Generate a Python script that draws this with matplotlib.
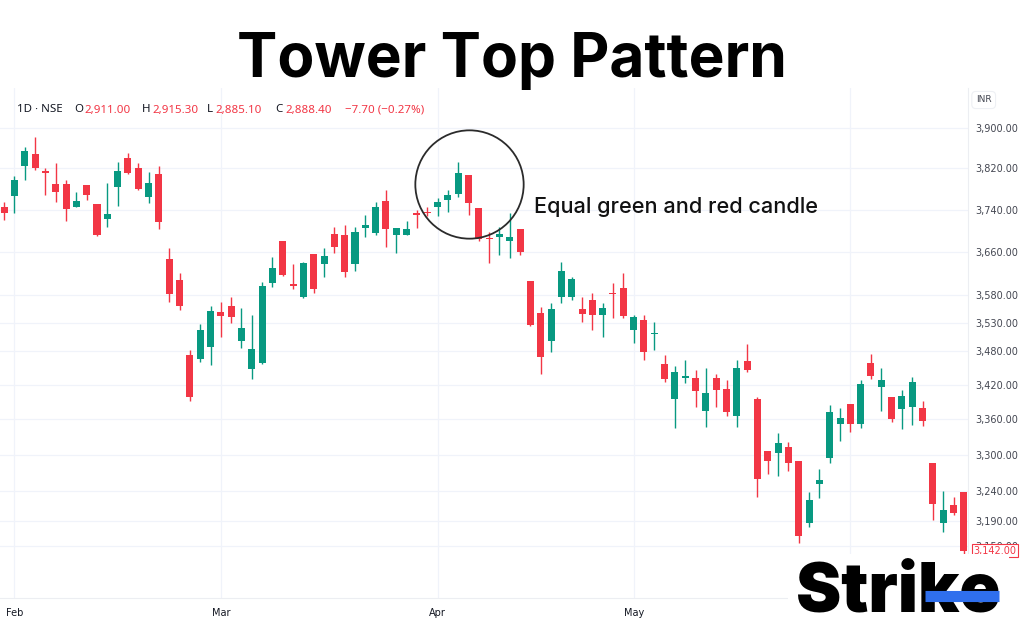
import numpy as np
import matplotlib.pyplot as plt
from matplotlib.ticker import FixedLocator, FuncFormatter, NullLocator
from matplotlib.lines import Line2D
import matplotlib.transforms as mtransforms

# daily candles (INR)
opens = [3746, 3767, 3825, 3848, 3815, 3790, 3790, 3746, 3788, 3750,
         3723, 3784, 3841, 3821, 3765, 3808, 3647, 3608, 3473, 3466,
         3487, 3550, 3561, 3497, 3448, 3459, 3603, 3681, 3601, 3577,
         3657, 3638, 3694, 3692, 3638, 3706, 3696, 3757, 3692, 3692,
         3734, 3736, 3746, 3759, 3770, 3806, 3744, 3687, 3689, 3681,
         3704, 3606, 3548, 3497, 3577, 3577, 3555, 3572, 3544, 3585,
         3594, 3517, 3535, 3510, 3457, 3396, 3432, 3432, 3374, 3432,
         3413, 3366, 3462, 3396, 3306, 3303, 3313, 3289, 3187, 3251,
         3294, 3352, 3386, 3352, 3459, 3416, 3399, 3378, 3382, 3380,
         3286, 3187, 3216, 3238]
highs = [3755, 3804, 3862, 3882, 3821, 3831, 3798, 3774, 3788, 3750,
         3792, 3833, 3850, 3831, 3813, 3825, 3668, 3621, 3482, 3528,
         3561, 3568, 3577, 3557, 3544, 3604, 3651, 3681, 3638, 3641,
         3657, 3668, 3708, 3711, 3708, 3729, 3755, 3778, 3706, 3719,
         3740, 3746, 3763, 3778, 3833, 3806, 3744, 3698, 3708, 3734,
         3704, 3606, 3559, 3566, 3642, 3613, 3577, 3585, 3566, 3603,
         3621, 3544, 3544, 3532, 3473, 3453, 3464, 3446, 3450, 3438,
         3429, 3464, 3492, 3399, 3306, 3337, 3322, 3289, 3238, 3276,
         3384, 3380, 3386, 3429, 3475, 3450, 3399, 3411, 3434, 3391,
         3286, 3239, 3230, 3238]
lows = [3721, 3734, 3798, 3817, 3768, 3755, 3719, 3746, 3759, 3690,
        3708, 3748, 3808, 3778, 3753, 3704, 3568, 3554, 3391, 3460,
        3455, 3504, 3530, 3485, 3430, 3457, 3595, 3615, 3592, 3575,
        3585, 3613, 3658, 3613, 3625, 3689, 3692, 3670, 3658, 3692,
        3706, 3727, 3727, 3736, 3765, 3730, 3681, 3640, 3655, 3649,
        3655, 3524, 3438, 3478, 3566, 3572, 3532, 3517, 3504, 3539,
        3539, 3494, 3464, 3482, 3425, 3345, 3423, 3382, 3347, 3382,
        3366, 3347, 3443, 3230, 3268, 3265, 3273, 3155, 3181, 3228,
        3286, 3323, 3339, 3345, 3430, 3374, 3356, 3344, 3351, 3349,
        3192, 3173, 3200, 3132]
closes = [3734, 3798, 3854, 3821, 3811, 3774, 3742, 3757, 3768, 3692,
          3731, 3815, 3811, 3780, 3792, 3717, 3583, 3561, 3399, 3517,
          3552, 3543, 3541, 3521, 3483, 3597, 3631, 3617, 3597, 3640,
          3592, 3653, 3670, 3623, 3698, 3710, 3746, 3704, 3706, 3704,
          3730, 3734, 3755, 3768, 3811, 3753, 3685, 3685, 3694, 3689,
          3660, 3526, 3469, 3555, 3625, 3610, 3546, 3544, 3557, 3583,
          3543, 3541, 3478, 3512, 3430, 3443, 3436, 3409, 3406, 3411,
          3373, 3450, 3446, 3260, 3289, 3320, 3286, 3165, 3225, 3258,
          3373, 3362, 3352, 3422, 3436, 3429, 3361, 3401, 3425, 3357,
          3218, 3208, 3203, 3142]

month_pos = [2, 22, 43, 62, 83]
month_labels = ["Feb", "Mar", "Apr", "May", "Jun"]
price_ticks = [3150, 3190, 3240, 3300, 3360, 3420, 3480, 3530, 3580,
               3660, 3740, 3820, 3900]
last_price = 3142.00

UP = "#089981"
DOWN = "#f23645"

fig = plt.figure(figsize=(10.24, 6.4), dpi=100)
ax = fig.add_axes([0.0, 0.0656, 0.9453, 0.797])

o = np.array(opens, float)
h = np.array(highs, float)
l = np.array(lows, float)
c = np.array(closes, float)
x = np.arange(1, len(o) + 1)
cols = np.where(c >= o, UP, DOWN)

ax.vlines(x, l, h, colors=cols, lw=1.0, zorder=2)
body_lo = np.minimum(o, c)
body_h = np.maximum(np.abs(c - o), 1.8)
ax.bar(x, body_h, bottom=body_lo, width=0.68, color=cols, lw=0, zorder=3)

ax.set_yscale("log")
ax.set_ylim(3067, 3980)
ax.set_xlim(0.6, 94.4)
ax.yaxis.tick_right()
ax.yaxis.set_major_locator(FixedLocator(price_ticks))
ax.yaxis.set_minor_locator(NullLocator())
ax.yaxis.set_major_formatter(FuncFormatter(lambda v, p: f"{v:,.2f}"))
ax.set_xticks(month_pos)
ax.set_xticklabels(month_labels)
ax.tick_params(axis="y", labelsize=7, colors="#434651", length=0, pad=5)
ax.tick_params(axis="x", labelsize=7, colors="#131722", length=0, pad=7)
ax.grid(color="#f0f3fa", lw=0.9)
ax.set_axisbelow(True)
for s in ["top", "left"]:
    ax.spines[s].set_visible(False)
for s in ["right", "bottom"]:
    ax.spines[s].set_color("#eceef2")
    ax.spines[s].set_linewidth(0.8)

# last price tag
ax.text(1.006, last_price, f"{last_price:,.2f}", transform=ax.get_yaxis_transform(),
        ha="left", va="center", fontsize=7, color=DOWN, zorder=6,
        bbox=dict(boxstyle="square,pad=0.15", fc="white", ec=DOWN, lw=0.8))

# circle around the tower top + note
ax.plot(46, 3790, marker="o", ms=78, mfc="none", mec="#2b2b2b", mew=1.3,
        clip_on=False, zorder=5)
ax.text(52.3, 3746, "Equal green and red candle", fontsize=15.6, family="Inter",
        weight="medium", color="#111111", ha="left", va="center")

# title
fig.text(0.5, 0.905, "Tower Top Pattern", ha="center", va="center",
         fontsize=43.5, weight="bold", family="Inter", color="black")

# OHLC header line
hdr = [("1D · NSE", "#131722", 17), ("O", "#131722", 74), ("2,911.00", DOWN, 84),
       ("H", "#131722", 142), ("2,915.30", DOWN, 152), ("L", "#131722", 207),
       ("2,885.10", DOWN, 215), ("C", "#131722", 275), ("2,888.40", DOWN, 285),
       ("\u22127.70 (\u22120.27%)", DOWN, 345)]
for t, col, px in hdr:
    fig.text(px / 1024, 1 - 110 / 640, t, color=col, fontsize=8.3,
             family="Noto Sans", ha="left", va="center")

fig.text(0.953, 1 - 100 / 640, "INR", fontsize=6.5, color="#434651",
         ha="left", va="center",
         bbox=dict(boxstyle="round,pad=0.45", fc="white", ec="#eef0f4", lw=0.8))

# logo
logo = fig.text(0.977, 0.044, "Strike", ha="right", va="baseline", fontsize=49,
                weight="black", family="Inter", color="black", zorder=10,
                bbox=dict(boxstyle="square,pad=0.12", fc="white", ec="none"))
fig.canvas.draw()
bb = logo.get_window_extent()
yb = bb.y0 + bb.height * 0.47
xs = bb.x0 + bb.width * 0.63
fig.add_artist(Line2D([xs, bb.x1 - 1], [yb, yb], color="#2f6fed", lw=8,
                      solid_capstyle="butt", zorder=11,
                      transform=mtransforms.IdentityTransform()))

fig.savefig("out.png", dpi=100, facecolor="white")
